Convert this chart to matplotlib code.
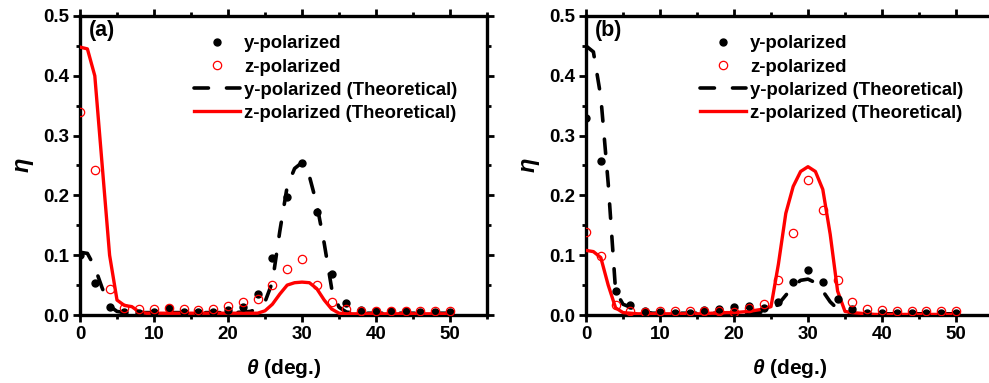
import matplotlib
matplotlib.use("Agg")
import matplotlib.pyplot as plt
from matplotlib.ticker import MultipleLocator, FormatStrFormatter

plt.rcParams['font.family'] = ['Liberation Sans', 'DejaVu Sans']
plt.rcParams['font.weight'] = 'bold'
plt.rcParams['mathtext.fontset'] = 'custom'
plt.rcParams['mathtext.it'] = 'Liberation Sans:italic:bold'
plt.rcParams['mathtext.rm'] = 'Liberation Sans:bold'

# measured angles (every 2 deg)
theta_pts = list(range(0, 51, 2))
# theory curves (every 1 deg)
theta_th = list(range(0, 51))

# panel (a)
a_y_meas = [0.100, 0.053, 0.013, 0.005, 0.003, 0.005, 0.012, 0.005, 0.005, 0.005,
            0.008, 0.014, 0.035, 0.096, 0.198, 0.254, 0.172, 0.068, 0.020, 0.008,
            0.007, 0.006, 0.006, 0.005, 0.005, 0.005]
a_z_meas = [0.340, 0.243, 0.043, 0.011, 0.010, 0.010, 0.012, 0.010, 0.009, 0.010,
            0.015, 0.022, 0.027, 0.050, 0.077, 0.094, 0.050, 0.022, 0.010, 0.007,
            0.007, 0.007, 0.007, 0.007, 0.007, 0.007]
a_y_th = [0.105, 0.103, 0.080, 0.045, 0.015, 0.006, 0.004, 0.004, 0.004, 0.004,
          0.004, 0.004, 0.004, 0.004, 0.004, 0.004, 0.004, 0.004, 0.004, 0.004,
          0.004, 0.004, 0.005, 0.006, 0.010, 0.022, 0.055, 0.140, 0.215, 0.245,
          0.255, 0.232, 0.185, 0.120, 0.045, 0.013, 0.005, 0.003, 0.003, 0.003,
          0.003, 0.003, 0.003, 0.003, 0.003, 0.003, 0.003, 0.003, 0.003, 0.003, 0.003]
a_z_th = [0.448, 0.445, 0.400, 0.250, 0.100, 0.025, 0.016, 0.014, 0.005, 0.003,
          0.003, 0.003, 0.003, 0.003, 0.003, 0.003, 0.003, 0.003, 0.003, 0.003,
          0.003, 0.003, 0.003, 0.003, 0.003, 0.007, 0.018, 0.035, 0.050, 0.054,
          0.055, 0.054, 0.044, 0.025, 0.010, 0.003, 0.002, 0.002, 0.002, 0.002,
          0.002, 0.002, 0.002, 0.002, 0.002, 0.002, 0.002, 0.002, 0.002, 0.002, 0.002]

# panel (b)
b_y_meas = [0.330, 0.258, 0.040, 0.017, 0.007, 0.005, 0.003, 0.003, 0.008, 0.010,
            0.013, 0.015, 0.012, 0.022, 0.055, 0.075, 0.055, 0.027, 0.010, 0.004,
            0.003, 0.003, 0.003, 0.003, 0.003, 0.003]
b_z_meas = [0.139, 0.099, 0.017, 0.006, 0.005, 0.006, 0.006, 0.006, 0.006, 0.006,
            0.005, 0.012, 0.018, 0.058, 0.137, 0.226, 0.176, 0.058, 0.022, 0.010,
            0.008, 0.007, 0.007, 0.007, 0.006, 0.006]
b_y_th = [0.450, 0.440, 0.365, 0.220, 0.040, 0.018, 0.013, 0.008, 0.005, 0.003,
          0.003, 0.003, 0.003, 0.003, 0.003, 0.003, 0.003, 0.003, 0.003, 0.003,
          0.003, 0.003, 0.003, 0.004, 0.005, 0.008, 0.018, 0.033, 0.048, 0.058,
          0.060, 0.054, 0.040, 0.022, 0.010, 0.004, 0.002, 0.002, 0.002, 0.002,
          0.002, 0.002, 0.002, 0.002, 0.002, 0.002, 0.002, 0.002, 0.002, 0.002, 0.002]
b_z_th = [0.108, 0.106, 0.096, 0.050, 0.012, 0.004, 0.003, 0.002, 0.002, 0.002,
          0.002, 0.002, 0.002, 0.002, 0.002, 0.002, 0.002, 0.003, 0.003, 0.004,
          0.004, 0.005, 0.006, 0.008, 0.010, 0.014, 0.085, 0.170, 0.215, 0.240,
          0.248, 0.240, 0.210, 0.135, 0.040, 0.006, 0.004, 0.003, 0.002, 0.001,
          0.001, 0.001, 0.001, 0.001, 0.001, 0.001, 0.001, 0.001, 0.001, 0.001, 0.001]

labels = ['y-polarized', 'z-polarized', 'y-polarized (Theoretical)', 'z-polarized (Theoretical)']

fig = plt.figure(figsize=(9.89, 3.83), dpi=100)
ax_a = fig.add_axes([80/989, 68/383, 407/989, 299/383])
ax_b = fig.add_axes([586/989, 68/383, 407/989, 299/383])


def draw(ax, ym, zm, yt, zt, tag):
    ax.plot(theta_pts, ym, 'o', color='black', ms=5, label=labels[0], zorder=4)
    ax.plot(theta_pts, zm, 'o', mfc='none', mec='red', ms=6, mew=0.9, label=labels[1], zorder=4)
    ax.plot(theta_th, yt, color='black', lw=2.6, dashes=(4, 5), dash_capstyle='round',
            label=labels[2], zorder=3)
    ax.plot(theta_th, zt, color='red', lw=2.4, label=labels[3], zorder=3)

    ax.set_xlim(0, 55)
    ax.set_ylim(0, 0.5)
    ax.set_xticks([0, 10, 20, 30, 40, 50])
    ax.set_yticks([0.0, 0.1, 0.2, 0.3, 0.4, 0.5])
    ax.xaxis.set_minor_locator(MultipleLocator(5))
    ax.yaxis.set_minor_locator(MultipleLocator(0.05))
    ax.yaxis.set_major_formatter(FormatStrFormatter('%.1f'))
    ax.tick_params(which='both', direction='out', width=2, labelsize=13.5,
                   top=True, right=True, pad=3)
    ax.tick_params(which='major', length=5)
    ax.tick_params(which='minor', length=3)
    for s in ax.spines.values():
        s.set_linewidth(2.4)

    ax.set_xlabel(r'$\theta$' + ' (deg.)', fontsize=15, fontweight='bold', labelpad=10)
    ax.set_ylabel(r'$\eta$', fontsize=17, labelpad=5)
    ax.text(0.022, 0.985, tag, transform=ax.transAxes, fontsize=15.5,
            fontweight='bold', va='top', ha='left')
    ax.legend(loc='upper left', bbox_to_anchor=(0.28, 0.935), frameon=False,
              handlelength=2.5, handletextpad=0.2, labelspacing=0.33,
              borderpad=0, borderaxespad=0, prop={'weight': 'bold', 'size': 13.3})


draw(ax_a, a_y_meas, a_z_meas, a_y_th, a_z_th, '(a)')
draw(ax_b, b_y_meas, b_z_meas, b_y_th, b_z_th, '(b)')

fig.savefig('out.png', dpi=100)
